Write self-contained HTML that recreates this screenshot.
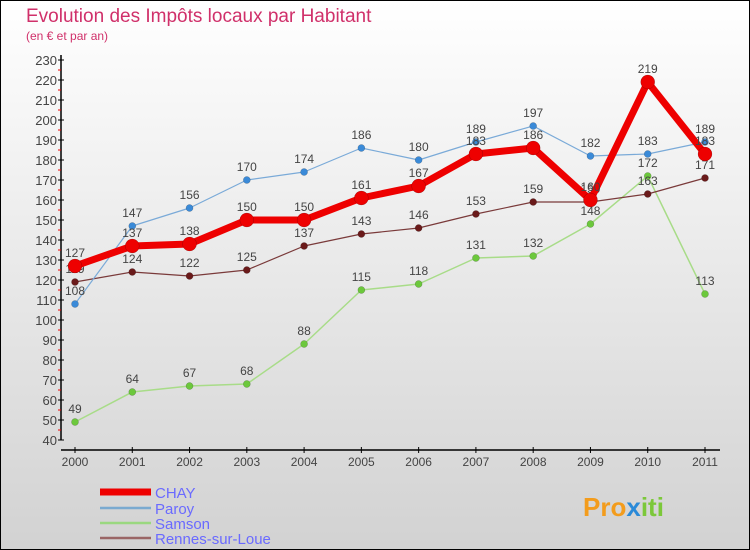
<!DOCTYPE html>
<html><head><meta charset="utf-8"><style>
body{margin:0}
#c{width:750px;height:550px;position:relative;box-sizing:border-box;border:1px solid #000;background:linear-gradient(#ffffff,#d2d2d2);font-family:"Liberation Sans",sans-serif;overflow:hidden}
</style></head><body>
<div id="c">
<svg id="s" width="750" height="550" style="position:absolute;left:-1px;top:-1px">
<text x="26" y="22" font-size="19" fill="#d0306a">Evolution des Impôts locaux par Habitant</text>
<text x="26" y="40" font-size="12" fill="#d0306a">(en € et par an)</text>
<text x="583" y="516" font-size="26" font-weight="bold" fill="#f39c1c">Pro<tspan fill="#2a8ad8">x</tspan><tspan fill="#7cc83a">iti</tspan></text>
</svg>
</div>
<script>
const years=["2000","2001","2002","2003","2004","2005","2006","2007","2008","2009","2010","2011"];
const yTicks=[40,50,60,70,80,90,100,110,120,130,140,150,160,170,180,190,200,210,220,230];
const chay=[127,137,138,150,150,161,167,183,186,160,219,183];
const paroy=[108,147,156,170,174,186,180,189,197,182,183,189];
const samson=[49,64,67,68,88,115,118,131,132,148,172,113];
const rennes=[119,124,122,125,137,143,146,153,159,159,163,171];
const s=document.getElementById('s');const NS='http://www.w3.org/2000/svg';
function X(i){return 75+i*(630/11);}
function Y(v){return 440-(v-40)*2;}
function el(t,a,p){const e=document.createElementNS(NS,t);for(const k in a)e.setAttribute(k,a[k]);(p||s).appendChild(e);return e;}
let ax=el('line',{x1:61,y1:55,x2:61,y2:440,stroke:'#000','stroke-width':1.5});

let xa=el('line',{x1:61,y1:450,x2:720,y2:450,stroke:'#000','stroke-width':1.5});

yTicks.forEach(v=>{el('line',{x1:58,x2:64,y1:Y(v),y2:Y(v),stroke:'#000'});
if(v<230)el('line',{x1:58,x2:61,y1:Y(v+5),y2:Y(v+5),stroke:'#e00'});
const t=el('text',{x:57,y:Y(v)+5,'text-anchor':'end','font-size':13,fill:'#444'});t.textContent=v;
});
years.forEach((y,i)=>{el('line',{x1:X(i),x2:X(i),y1:447,y2:453,stroke:'#000'});
const t=el('text',{x:X(i),y:466,'text-anchor':'middle','font-size':12,fill:'#444'});t.textContent=y;
});
function series(d,col,w,r,dot,name){
const g=el('g',{});
el('polyline',{points:d.map((v,i)=>X(i)+','+Y(v)).join(' '),fill:'none',stroke:col,'stroke-width':w,'stroke-linejoin':'round'},g);
d.forEach((v,i)=>{const c=el('circle',{cx:X(i),cy:Y(v),r:r,fill:dot,stroke:'rgba(0,0,0,0.3)','stroke-width':0.5},g);

const t=el('text',{x:X(i),y:Y(v)-9,'text-anchor':'middle','font-size':12,fill:'#444'},g);t.textContent=v;
});}
series(samson,'#a8dc88',1.5,3.5,'#6cc83c','samson');
series(rennes,'#7a3a3a',1.2,3.5,'#6a1a1a','rennes');
series(paroy,'#7aaad8',1.2,3.5,'#3a8ad8','paroy');
series(chay,'#ee0000',7,7,'#ee0000','chay');
const leg=[['CHAY','#ee0000',7],['Paroy','#7aaad0',2.5],['Samson','#9ad880',2.5],['Rennes-sur-Loue','#9a6666',2.5]];
leg.forEach((l,i)=>{const y=[492,508,523,538][i];
const g=el('g',{});
el('line',{x1:100,x2:151,y1:y,y2:y,stroke:l[1],'stroke-width':l[2]},g);
const t=el('text',{x:155,y:y+6,'font-size':15,fill:'#6a6aff'},g);t.textContent=l[0];});
</script>
</body></html>
